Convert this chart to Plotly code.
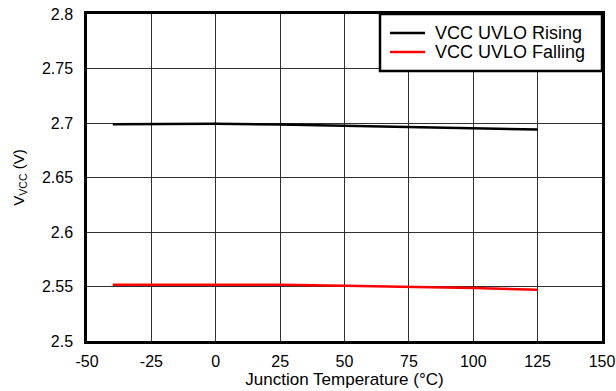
import plotly.graph_objects as go

temps = [-40, 0, 25, 50, 75, 100, 125]
rising = [2.6988, 2.6993, 2.6986, 2.6976, 2.6965, 2.6955, 2.694]
falling = [2.5516, 2.5519, 2.5516, 2.5507, 2.5498, 2.5487, 2.5470]

series_names = ["VCC UVLO Rising", "VCC UVLO Falling"]
series_colors = ["black", "#ff0000"]

x_ticks = [-50, -25, 0, 25, 50, 75, 100, 125, 150]
y_ticks = [2.5, 2.55, 2.6, 2.65, 2.7, 2.75, 2.8]

fig = go.Figure()
for vals, name, col in zip([rising, falling], series_names, series_colors):
    fig.add_trace(go.Scatter(x=temps, y=vals, mode="lines", name=name,
                             line=dict(color=col, width=2.5), showlegend=False))

# Custom legend box (paper coords)
L, R, T, B = 87, 602, 14, 341
def px_x(p):
    return (p - L) / (R - L)
def px_y(p):
    return (B - p) / (B - T)

fig.add_shape(type="rect", xref="paper", yref="paper",
              x0=px_x(380), x1=px_x(602), y0=px_y(71), y1=px_y(14),
              fillcolor="white", line=dict(color="black", width=2.5), layer="above")
for i, (name, col) in enumerate(zip(series_names, series_colors)):
    yy = px_y(33 + i * 19)
    fig.add_shape(type="line", xref="paper", yref="paper",
                  x0=px_x(390), x1=px_x(425), y0=yy, y1=yy,
                  line=dict(color=col, width=2.5), layer="above")
    fig.add_annotation(xref="paper", yref="paper", x=px_x(433), y=yy,
                       xanchor="left", yanchor="middle", text=name, showarrow=False,
                       font=dict(size=18, color="black"))

font = "Liberation Sans, Arial, sans-serif"
fig.update_layout(
    width=616, height=391,
    margin=dict(l=87, r=14, t=14, b=50, autoexpand=False),
    plot_bgcolor="white", paper_bgcolor="white",
    font=dict(family=font, size=16, color="black"),
    showlegend=False,
    xaxis=dict(range=[-50, 150], tickvals=x_ticks, ticktext=[str(v) for v in x_ticks],
               showgrid=True, gridcolor="#303030", gridwidth=1,
               showline=True, linecolor="black", linewidth=2.5, mirror=True,
               zeroline=False, ticks="", ticklabelstandoff=4, automargin=False,
               title=dict(text="Junction Temperature (°C)", standoff=2, font=dict(size=17))),
    yaxis=dict(range=[2.5, 2.8], tickvals=y_ticks, ticktext=[f"{v:g}" for v in y_ticks],
               showgrid=True, gridcolor="#303030", gridwidth=1,
               showline=True, linecolor="black", linewidth=2.5, mirror=True,
               zeroline=False, ticks="", ticklabelstandoff=8, automargin=False,
               title=dict(text="V<sub>VCC</sub> (V)", standoff=14, font=dict(size=15))),
)
fig.write_html("out.html")
